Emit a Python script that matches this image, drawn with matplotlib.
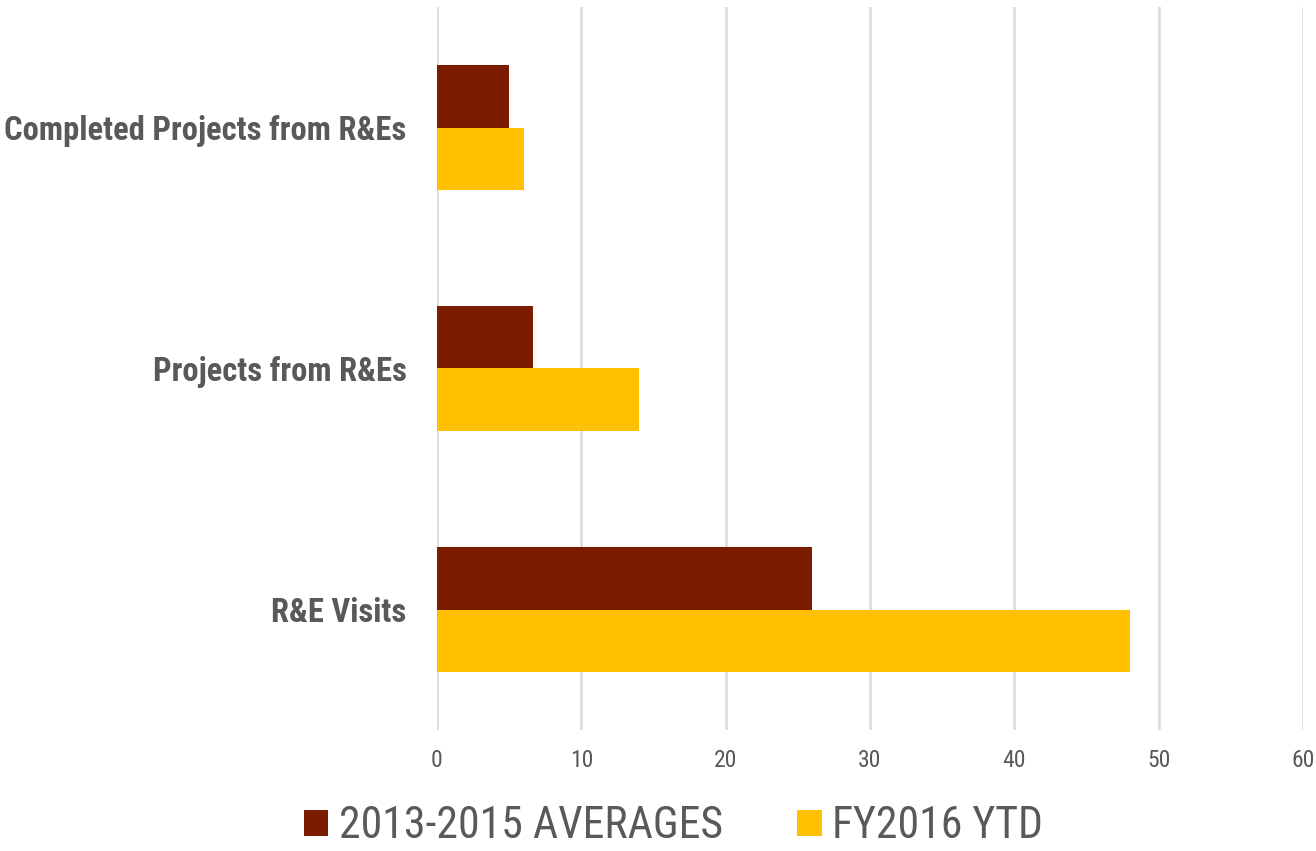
import matplotlib.pyplot as plt
import numpy as np
from matplotlib import font_manager

names = {f.name for f in font_manager.fontManager.ttflist}
narrow = [n for n in ["Liberation Sans Narrow", "Roboto Condensed", "DejaVu Sans"] if n in names]
plt.rcParams['font.family'] = narrow

categories = ["R&E Visits", "Projects from R&Es", "Completed Projects from R&Es"]
avg_2013_2015 = [26, 6.67, 5]
fy2016_ytd = [48, 14, 6]
series_names = ["2013-2015 AVERAGES", "FY2016 YTD"]
colors = ["#7B1C00", "#FFC000"]

fig = plt.figure(figsize=(13.16, 8.51), dpi=100)
ax = fig.add_axes([437/1316, 1 - 730/851, (1303-437)/1316, (730-7)/851])

y = np.arange(len(categories))
h = 0.26
ax.barh(y + h/2, avg_2013_2015, height=h, color=colors[0], label=series_names[0], zorder=3)
ax.barh(y - h/2, fy2016_ytd, height=h, color=colors[1], label=series_names[1], zorder=3)

ax.set_xlim(0, 60)
ax.set_ylim(-0.5, 2.5)
ax.set_xticks(range(0, 61, 10))
ax.set_yticks(y)
ax.set_yticklabels(categories, fontsize=23.5, fontweight='bold', color='#595959')
ax.tick_params(axis='x', labelsize=17, colors='#595959', length=0, pad=14)
ax.tick_params(axis='y', length=0, pad=22)
ax.grid(axis='x', color='#D9D9D9', linewidth=1.8, zorder=0)
for s in ax.spines.values():
    s.set_visible(False)

fig.legend(loc='center', ncol=2, bbox_to_anchor=(0.512, 0.029), frameon=False,
           prop={'size': 31.5}, labelcolor='#595959',
           handlelength=0.55, handleheight=0.55, columnspacing=1.7, handletextpad=0.25)

fig.savefig("out.png", dpi=100)
